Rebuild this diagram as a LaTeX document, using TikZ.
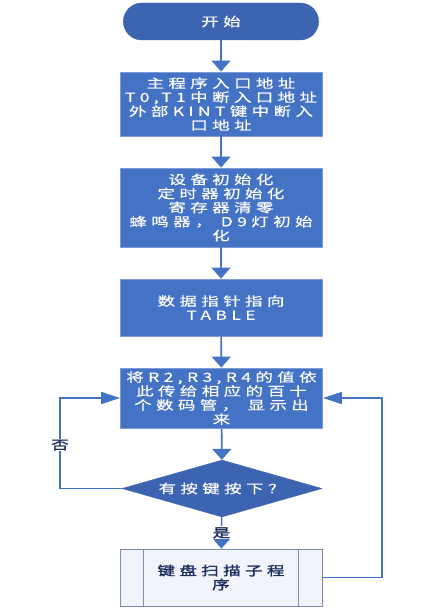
\documentclass[tikz,border=0pt]{standalone}
\usepackage{fontspec}
\setmainfont{Noto Sans CJK SC}[FakeStretch=1.4,LetterSpace=35,FakeBold=0.4]
\usetikzlibrary{shapes.geometric,shapes.misc,arrows.meta,calc}
\definecolor{kasten}{RGB}{68,114,196}
\definecolor{dunkel}{RGB}{60,100,176}
\definecolor{rand}{RGB}{125,155,215}
\definecolor{grau}{RGB}{125,140,175}
\definecolor{schrift}{RGB}{28,45,95}
\tikzset{
  box/.style={rectangle, fill=kasten, draw=rand, line width=0.8pt,
    minimum width=202pt, inner sep=2pt, align=center, text=white,
    font=\fontsize{12.5}{14}\selectfont},
  startbox/.style={rounded rectangle, fill=dunkel, draw=dunkel,
    minimum width=202pt, minimum height=37pt, text=white,
    font=\fontsize{12.5}{14}\selectfont},
  frage/.style={diamond, fill=dunkel, draw=dunkel, minimum width=200pt,
    minimum height=57pt, inner sep=0pt, shape aspect=3.5, text=white,
    font=\fontsize{12.5}{14}\selectfont},
  unterprog/.style={rectangle, fill={rgb,255:red,241;green,244;blue,250},
    draw=grau, line width=0.8pt, minimum width=202pt, minimum height=57pt,
    align=center, text=schrift, font=\fontsize{12.5}{14}\selectfont\addfontfeature{FakeBold=1.8}},
  lbl/.style={fill=white, inner sep=1pt, text=schrift,
    font=\fontsize{12.5}{14}\selectfont\addfontfeature{FakeBold=1.8}},
  pv/.style={draw=kasten, line width=1.6pt, -{Triangle[length=11pt,width=19pt]}},
  ph/.style={draw=kasten, line width=1.6pt, -{Triangle[length=19pt,width=12pt]}}
}
\begin{document}
\begin{tikzpicture}[x=1pt, y=-1pt]
\useasboundingbox (0,0) rectangle (442,609);
% Kaesten von oben nach unten
\node[startbox] (S) at (221,21.5) {开始};
\node[box, minimum height=64pt] (B1) at (221,104)
  {主程序入口地址\\T0,T1中断入口地址\\外部KINT键中断入\\口地址};
\node[box, minimum height=79pt] (B2) at (221,207.5)
  {设备初始化\\定时器初始化\\寄存器清零\\蜂鸣器， D9灯初始\\化};
\node[box, minimum height=57pt] (B3) at (221,307.5)
  {数据指针指向\\TABLE};
\node[box, minimum height=60pt] (B4) at (221.5,398)
  {将R2,R3,R4的值依\\此传给相应的百十\\个数码管， 显示出\\来};
\node[frage] (D) at (222,488.5) {有按键按下？};
\node[unterprog] (U) at (221,577.5) {键盘扫描子程\\序};
\draw[grau, line width=0.8pt] ($(U.north west)+(24,0)$) -- ($(U.south west)+(24,0)$);
\draw[grau, line width=0.8pt] ($(U.north east)+(-24,0)$) -- ($(U.south east)+(-24,0)$);
\coordinate (R) at (382,577.5);
% Verbindungen
\draw[pv] (S) -- (B1);
\draw[pv] (B1) -- (B2);
\draw[pv] (B2) -- (B3);
\draw[pv] (B3) -- (B4);
\draw[pv] (B4) -- (D);
\draw[pv] (D) -- (U) node[lbl, pos=0.5] (ja) {是};
\draw[ph] (D.west) -- ++(-62,0) |- (B4.west);
\draw[ph] (U.east) -- (R) |- (B4.east);
\node[lbl] (nein) at (60,445) {否};
\end{tikzpicture}
\end{document}
